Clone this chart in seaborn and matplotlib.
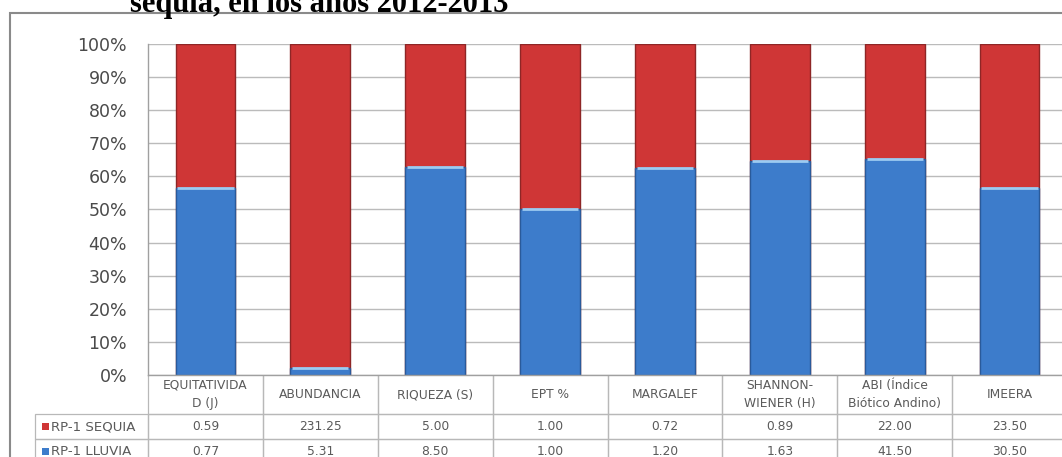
import numpy as np
import pandas as pd
import matplotlib
matplotlib.use("Agg")
import matplotlib.pyplot as plt
import seaborn as sns
from matplotlib.table import Table
from matplotlib.patches import Rectangle
from matplotlib.ticker import PercentFormatter

# ---- data ----
categories = ["EQUITATIVIDA\nD (J)", "ABUNDANCIA", "RIQUEZA (S)", "EPT %", "MARGALEF",
              "SHANNON-\nWIENER (H)", "ABI (Índice\nBiótico Andino)", "IMEERA"]
sequia = [0.59, 231.25, 5.00, 1.00, 0.72, 0.89, 22.00, 23.50]
lluvia = [0.77, 5.31, 8.50, 1.00, 1.20, 1.63, 41.50, 30.50]
series_names = ["RP-1 SEQUIA", "RP-1 LLUVIA"]
title_text = "sequía, en los años 2012-2013"

RED = "#CF3636"
RED_EDGE = "#8E2626"
BLUE = "#3D7CCB"
BLUE_EDGE = "#2A5A9A"
BLUE_HI = "#9CCBF2"
TXT = "#5A5A5A"

sns.set_theme(style="white")
plt.rcParams["font.family"] = ["DejaVu Sans"]

W, H = 1062, 457
fig = plt.figure(figsize=(W / 100, H / 100), dpi=100)

# axes in pixel layout
L, R, T, B = 148, 1067, 44, 375
ax = fig.add_axes([L / W, (H - B) / H, (R - L) / W, (B - T) / H])

key = [f"c{i}" for i in range(len(categories))]
tot = np.array(sequia) + np.array(lluvia)
df = pd.DataFrame({"cat": key,
                   "total": tot / tot,
                   "lluvia_pct": np.array(lluvia) / tot})

ax.set_axisbelow(True)
ax.yaxis.grid(True, color="#BBBBBB", linewidth=1.0)
sns.barplot(data=df, x="cat", y="total", color=RED, width=0.52,
            edgecolor=RED_EDGE, linewidth=1.0, saturation=1, ax=ax)
sns.barplot(data=df, x="cat", y="lluvia_pct", color=BLUE, width=0.52,
            edgecolor=BLUE_EDGE, linewidth=1.0, saturation=1, ax=ax)
xs = np.arange(len(categories))
ax.hlines(df["lluvia_pct"], xs - 0.245, xs + 0.245, color=BLUE_HI, linewidth=2)

ax.set_xlim(-0.5, len(categories) - 0.5)
ax.set_ylim(0, 1)
ax.set_yticks(np.linspace(0, 1, 11))
ax.yaxis.set_major_formatter(PercentFormatter(1.0, decimals=0))
ax.tick_params(axis="y", length=0, pad=15, labelsize=12.5, labelcolor="#4A4A4A")
ax.set_xticks([])
ax.set_xlabel("")
ax.set_ylabel("")
for s in ["top", "right"]:
    ax.spines[s].set_visible(False)
for s in ["left", "bottom"]:
    ax.spines[s].set_color("#A0A0A0")
    ax.spines[s].set_linewidth(1.0)

# ---- data table (column 0 = row labels) ----
lab_x0 = 35
hdr_h, row_h = 39, 25
tab_bottom = B + hdr_h + 2 * row_h
bbox = [(lab_x0 - L) / (R - L), -(tab_bottom - B) / (B - T),
        (R - lab_x0) / (R - L), (tab_bottom - B) / (B - T)]
tbl = Table(ax, bbox=bbox)
colw = (R - L) / len(categories)
labw = L - lab_x0
fs = 8.8
c = tbl.add_cell(0, 0, width=labw, height=hdr_h, text="", loc="center")
c.visible_edges = ""
for j, cat in enumerate(categories, start=1):
    c = tbl.add_cell(0, j, width=colw, height=hdr_h, text=cat, loc="center")
    c.get_text().set_multialignment("center")
    c.get_text().set_linespacing(1.55)
    c.visible_edges = "BLR"
rows = [sequia, lluvia]
for i, vals in enumerate(rows, start=1):
    tbl.add_cell(i, 0, width=labw, height=row_h, text="", loc="left")
    for j, v in enumerate(vals, start=1):
        tbl.add_cell(i, j, width=colw, height=row_h, text=f"{v:.2f}", loc="center")
tbl.auto_set_font_size(False)
ax.add_table(tbl)
tbl.set_clip_on(False)
for (r, cidx), cell in tbl.get_celld().items():
    cell.set_edgecolor("#B8B8B8")
    cell.set_linewidth(0.9)
    cell.set_facecolor("none")
    cell.set_clip_on(False)
    cell.get_text().set_fontsize(fs)
    cell.get_text().set_color(TXT)
    cell.get_text().set_clip_on(False)

# row labels with legend keys
for i, (name, col) in enumerate(zip(series_names, [RED, BLUE])):
    yc = B + hdr_h + row_h * i + row_h / 2
    fig.add_artist(Rectangle((42 / W, 1 - (yc + 3.5) / H), 7 / W, 7 / H,
                             transform=fig.transFigure, facecolor=col,
                             edgecolor="none"))
    fig.text(51 / W, 1 - yc / H, name, fontsize=9.6, color=TXT,
             va="center", ha="left")

# outer chart border
fig.add_artist(Rectangle((10 / W, -0.05), 1.2, 1 - 13 / H + 0.05,
                         transform=fig.transFigure, fill=False,
                         edgecolor="#8A8A8A", linewidth=1.5))

# title (cut at top, as in the source)
fig.text(130 / W, 1 - 12 / H, title_text, fontsize=22, fontweight="bold",
         family="Liberation Serif", ha="left", va="baseline", color="black")

fig.savefig("out.png", dpi=100)
